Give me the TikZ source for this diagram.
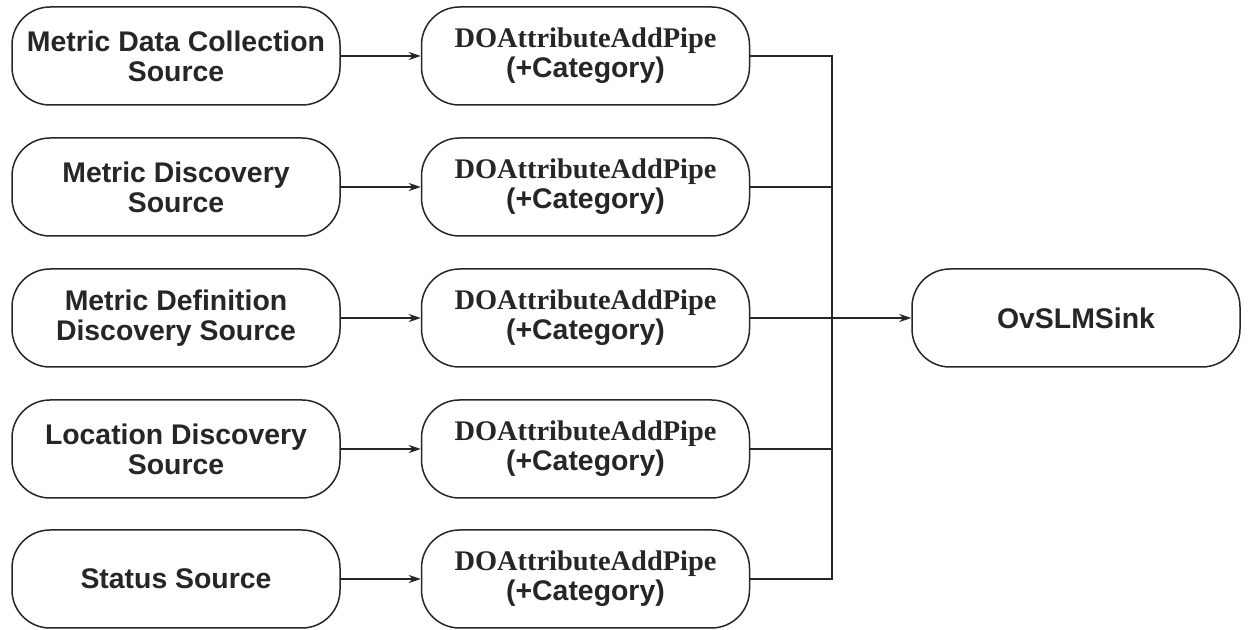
\documentclass[tikz,border=0pt]{standalone}
\usepackage{fontspec}
\setmainfont{Liberation Sans}
\newfontfamily\timesf{Liberation Serif}
\usetikzlibrary{arrows.meta}
\begin{document}
\begin{tikzpicture}[x=0.5pt,y=-0.5pt,
  box/.style={draw=black!85, line width=0.75pt, rounded corners=19pt, minimum width=164pt, minimum height=49pt, inner sep=0pt, align=center, font=\fontsize{14.2}{15}\selectfont\bfseries, text=black!85},
  conn/.style={draw=black!85, line width=0.75pt},
  arr/.style={conn, -{Stealth[length=6pt,width=4pt]}}]
\useasboundingbox (0,0) rectangle (1249,630);
\foreach \i/\y/\t in {1/56/{Metric Data Collection\\Source},2/187/{Metric Discovery\\Source},3/318/{Metric Definition\\Discovery Source},4/449/{Location Discovery\\Source},5/579/{Status Source}}{
  \node[box] (s\i) at (176,\y) {\t};
  \node[box] (p\i) at (585.5,\y) {{\timesf DOAttributeAddPipe}\\(+Category)};
  \draw[arr] (s\i) -- (p\i);
}
\node[box] (sink) at (1076,318) {OvSLMSink};
\coordinate (top) at (832,56);
\coordinate (bot) at (832,579);
\draw[conn] (p1.east) -- (top) -- (bot) -- (p5.east);
\draw[conn] (p2.east) -- (832,187);
\draw[conn] (p4.east) -- (832,449);
\draw[arr] (p3.east) -- (sink.west);
\draw[draw=black!85, line width=1.2pt] (832,318) -- ([xshift=-8pt]sink.west);
\end{tikzpicture}
\end{document}
